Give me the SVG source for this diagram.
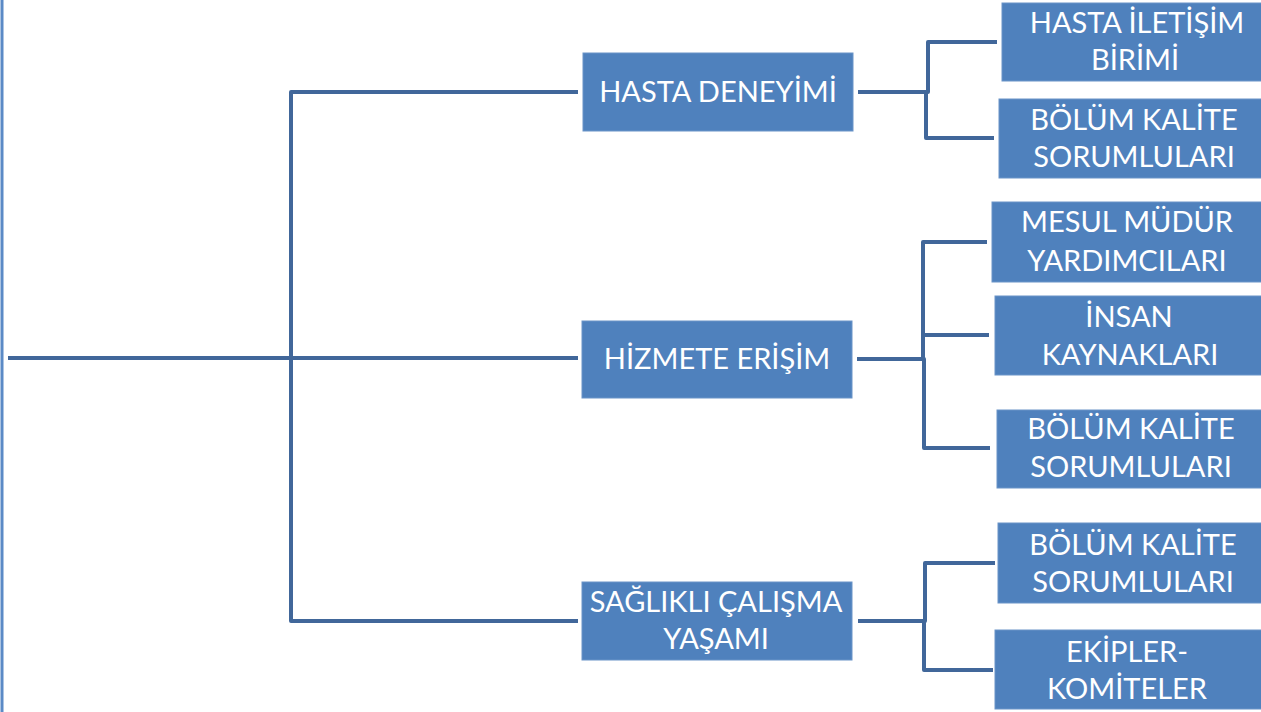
<svg xmlns="http://www.w3.org/2000/svg" width="1261" height="712" viewBox="0 0 1261 712">
<style>
.box{fill:#4f81bd;stroke:#6a94c8;stroke-width:1}
.t{font-family:Lato,"Liberation Sans",Arial,sans-serif;font-size:29px;fill:#ffffff;text-anchor:middle}
.c{fill:none;stroke:#41679a;stroke-width:4;stroke-linejoin:round}
</style>
<rect width="1261" height="712" fill="#ffffff"/>
<line x1="2" y1="0" x2="2" y2="712" stroke="#5b8ac6" stroke-width="3"/>
<g id="connectors">
<path class="c" d="M8,358 H291"/>
<path class="c" d="M291,358 V92 H578"/>
<path class="c" d="M291,358 H578"/>
<path class="c" d="M291,358 V621 H578"/>
<path class="c" d="M858,92 H928 V42 H997"/>
<path class="c" d="M858,92 H926 V138 H994"/>
<path class="c" d="M857,359 H923 V242 H987"/>
<path class="c" d="M857,359 H923 V335 H989"/>
<path class="c" d="M857,359 H924 V448 H990"/>
<path class="c" d="M858,621 H925 V563 H995"/>
<path class="c" d="M858,621 H924 V670 H993"/>
</g>
<g id="hasta-deneyimi">
<rect class="box" x="583" y="53" width="270" height="78"/>
<text class="t" x="718" y="102">HASTA DENEYİMİ</text>
</g>
<g id="hizmete-erisim">
<rect class="box" x="582" y="321" width="270" height="77"/>
<text class="t" x="717" y="369">HİZMETE ERİŞİM</text>
</g>
<g id="saglikli-calisma">
<rect class="box" x="582" y="582" width="270" height="78"/>
<text class="t" x="716" y="612">SAĞLIKLI ÇALIŞMA</text>
<text class="t" x="716" y="649">YAŞAMI</text>
</g>
<g id="hasta-iletisim">
<rect class="box" x="1002" y="3" width="270" height="78"/>
<text class="t" x="1137" y="33">HASTA İLETİŞİM</text>
<text class="t" x="1135" y="70">BİRİMİ</text>
</g>
<g id="bolum-kalite-1">
<rect class="box" x="999" y="99" width="273" height="79"/>
<text class="t" x="1134" y="130">BÖLÜM KALİTE</text>
<text class="t" x="1134" y="167">SORUMLULARI</text>
</g>
<g id="mesul-mudur">
<rect class="box" x="992" y="202" width="275" height="80"/>
<text class="t" x="1127" y="232">MESUL MÜDÜR</text>
<text class="t" x="1127" y="271">YARDIMCILARI</text>
</g>
<g id="insan-kaynaklari">
<rect class="box" x="995" y="296" width="272" height="79"/>
<text class="t" x="1129" y="327">İNSAN</text>
<text class="t" x="1130" y="365">KAYNAKLARI</text>
</g>
<g id="bolum-kalite-2">
<rect class="box" x="997" y="410" width="270" height="78"/>
<text class="t" x="1131" y="439">BÖLÜM KALİTE</text>
<text class="t" x="1131" y="477">SORUMLULARI</text>
</g>
<g id="bolum-kalite-3">
<rect class="box" x="998" y="523" width="272" height="80"/>
<text class="t" x="1133" y="555">BÖLÜM KALİTE</text>
<text class="t" x="1133" y="592">SORUMLULARI</text>
</g>
<g id="ekipler-komiteler">
<rect class="box" x="995" y="630" width="270" height="79"/>
<text class="t" x="1127" y="662">EKİPLER-</text>
<text class="t" x="1127" y="699">KOMİTELER</text>
</g>
</svg>
